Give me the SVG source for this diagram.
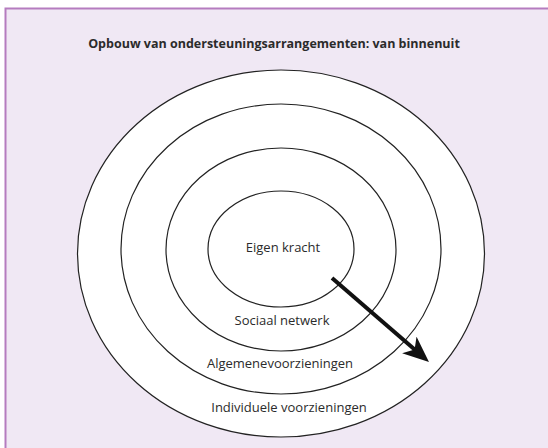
<svg xmlns="http://www.w3.org/2000/svg" width="548" height="448" viewBox="0 0 548 448">
<defs>
<style>
.frame{fill:#f0e8f4;stroke:#b57cbf;stroke-width:2}
.ring{fill:#ffffff;stroke:#222222;stroke-width:1.2}
.lbl{font-family:"Open Sans","Liberation Sans",sans-serif;font-size:13px;fill:#2b2b2b;text-anchor:middle}
.title{font-family:"Open Sans","Liberation Sans",sans-serif;font-size:12.5px;font-weight:bold;fill:#2b2b2b;text-anchor:middle}
</style>
<marker id="head" viewBox="0 0 26 22" refX="12" refY="11" markerWidth="26" markerHeight="22" markerUnits="userSpaceOnUse" orient="auto">
<path d="M0,0 L26,11 L0,22 L7,11 Z" fill="#111111"/>
</marker>
</defs>
<rect class="frame" x="5.5" y="8.5" width="560" height="460"/>
<text class="title" x="274" y="48">Opbouw van ondersteuningsarrangementen: van binnenuit</text>
<g id="ring-individuele">
<ellipse class="ring" cx="281" cy="253.5" rx="203.5" ry="183.5"/>
<text class="lbl" x="289" y="412">Individuele voorzieningen</text>
</g>
<g id="ring-algemene">
<ellipse class="ring" cx="281" cy="249" rx="160" ry="145"/>
<text class="lbl" x="280" y="368">Algemenevoorzieningen</text>
</g>
<g id="ring-sociaal">
<ellipse class="ring" cx="281" cy="249.5" rx="115" ry="101.5"/>
<text class="lbl" x="282" y="325">Sociaal netwerk</text>
</g>
<g id="ring-eigen">
<ellipse class="ring" cx="281" cy="249" rx="73" ry="58"/>
<text class="lbl" x="283" y="252">Eigen kracht</text>
</g>
<g id="connectors">
<line x1="332" y1="278" x2="418.4" y2="352.8" stroke="#111111" stroke-width="4" marker-end="url(#head)"/>
</g>
</svg>
